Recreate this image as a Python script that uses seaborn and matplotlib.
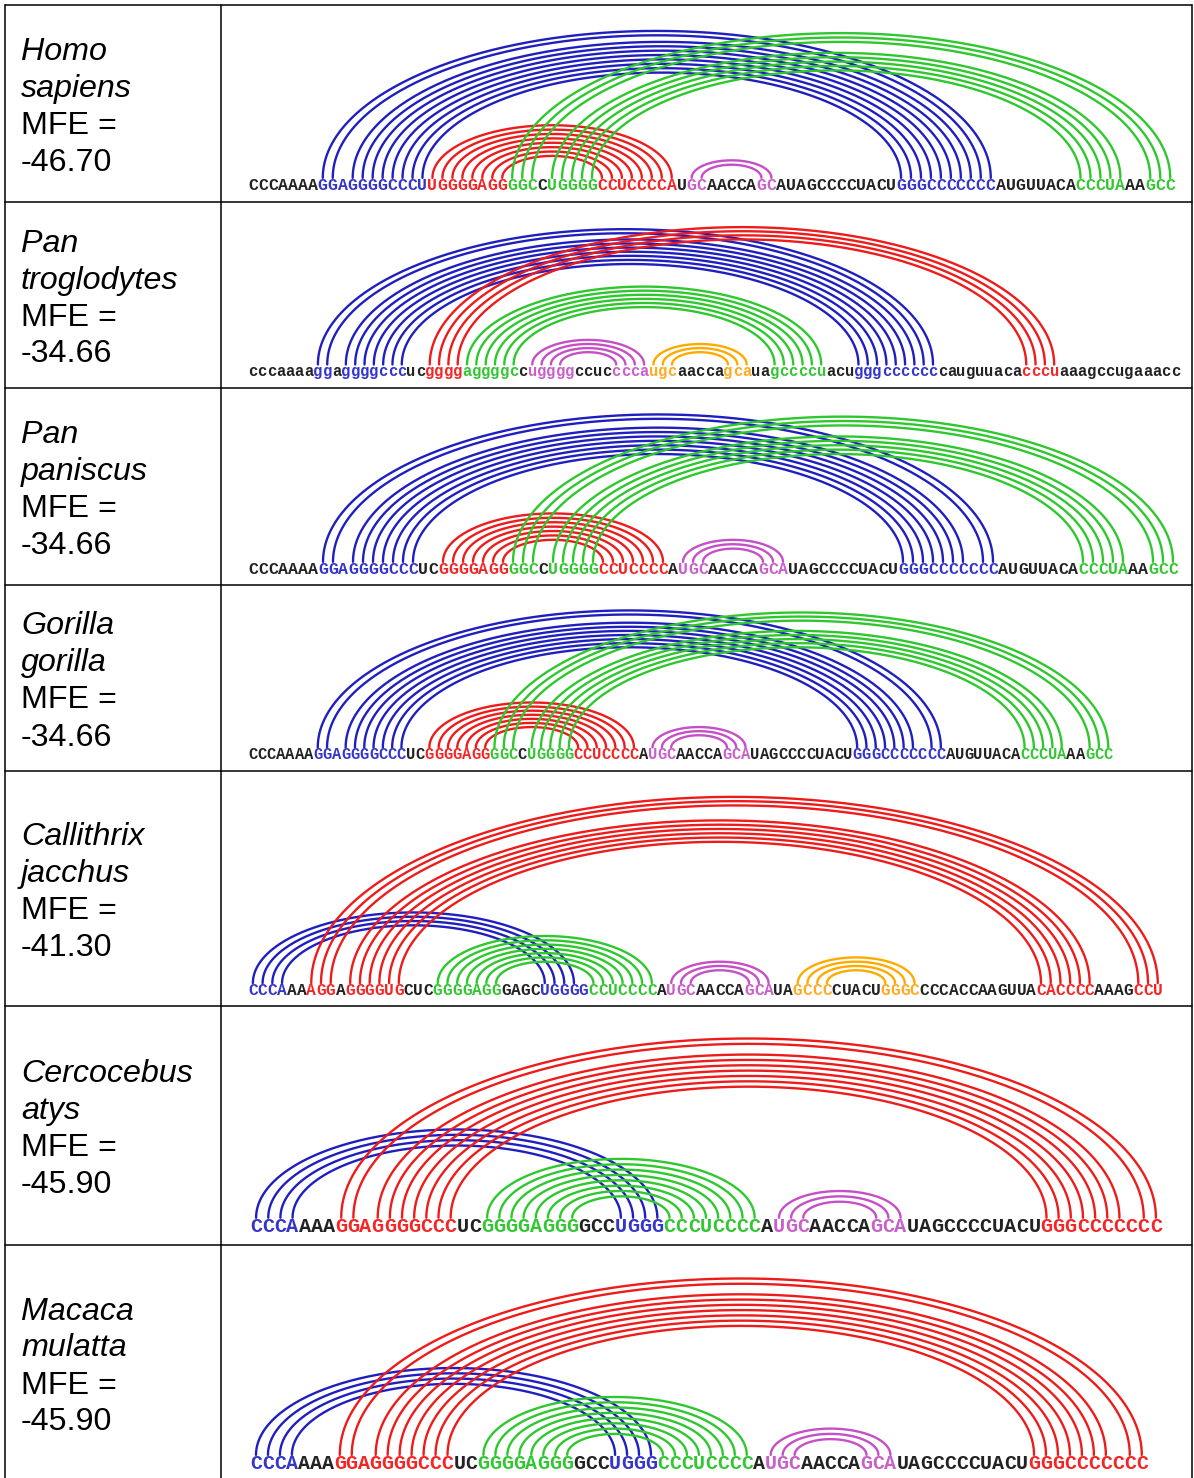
import numpy as np
import pandas as pd
import matplotlib
matplotlib.use("Agg")
import matplotlib.pyplot as plt
import seaborn as sns

# ---------------- data ----------------
species_names = [("Homo", "sapiens"), ("Pan", "troglodytes"), ("Pan", "paniscus"),
                 ("Gorilla", "gorilla"), ("Callithrix", "jacchus"),
                 ("Cercocebus", "atys"), ("Macaca", "mulatta")]
mfe_values = ["-46.70", "-34.66", "-34.66", "-34.66", "-41.30", "-45.90", "-45.90"]

# sequences as coloured segments (k=unpaired, b/r/g/m/o = helix colour)
homo_segments = [("CCCAAAA", "k"), ("GGAGGGGCCCU", "b"), ("UGGGGAGG", "r"), ("GGC", "g"),
                 ("C", "k"), ("UGGGG", "g"), ("CCUCCCCA", "r"), ("U", "k"), ("GC", "m"),
                 ("AACCA", "k"), ("GC", "m"), ("AUAGCCCCUACU", "k"), ("GGGCCCCCCC", "b"),
                 ("AUGUUACA", "k"), ("CCCUA", "g"), ("AA", "k"), ("GCC", "g")]
homo_helices = [("b", [7, 8, 10, 11, 12, 13, 14, 15, 16, 17], [74, 73, 72, 71, 70, 69, 68, 67, 66, 65]),
                ("r", [18, 19, 20, 21, 22, 23, 24, 25], [42, 41, 40, 39, 38, 37, 36, 35]),
                ("g", [26, 27, 28, 30, 31, 32, 33, 34], [92, 91, 90, 87, 86, 85, 84, 83]),
                ("m", [44, 45], [52, 51])]

trog_segments = [("cccaaaa", "k"), ("gg", "b"), ("a", "k"), ("ggggccc", "b"), ("uc", "k"),
                 ("gggg", "r"), ("aggggc", "g"), ("c", "k"), ("ugggg", "m"), ("ccuc", "k"),
                 ("ccca", "m"), ("ugc", "o"), ("aacca", "k"), ("gca", "o"), ("ua", "k"),
                 ("gccccu", "g"), ("acu", "k"), ("gggcccccc", "b"), ("cauguuaca", "k"),
                 ("cccu", "r"), ("aaagccugaaacc", "k")]
trog_helices = [("b", [7, 8, 10, 11, 12, 13, 14, 15, 16], [73, 72, 71, 70, 69, 68, 67, 66, 65]),
                ("r", [19, 20, 21, 22], [86, 85, 84, 83]),
                ("g", [23, 24, 25, 26, 27, 28], [61, 60, 59, 58, 57, 56]),
                ("m", [30, 31, 32, 33], [42, 41, 40, 39]),
                ("o", [43, 44, 45], [53, 52, 51])]

panis_segments = [("CCCAAAA", "k"), ("GGAGGGGCCC", "b"), ("UC", "k"), ("GGGGAGG", "r"),
                  ("GGC", "g"), ("C", "k"), ("UGGGG", "g"), ("CCUCCCC", "r"), ("A", "k"),
                  ("UGC", "m"), ("AACCA", "k"), ("GCA", "m"), ("UAGCCCCUACU", "k"),
                  ("GGGCCCCCCC", "b"), ("AUGUUACA", "k"), ("CCCUA", "g"), ("AA", "k"), ("GCC", "g")]
panis_helices = [("b", [7, 8, 10, 11, 12, 13, 14, 15, 16], [74, 73, 71, 70, 69, 68, 67, 66, 65]),
                 ("r", [19, 20, 21, 22, 23, 24, 25], [41, 40, 39, 38, 37, 36, 35]),
                 ("g", [26, 27, 28, 30, 31, 32, 33, 34], [92, 91, 90, 87, 86, 85, 84, 83]),
                 ("m", [43, 44, 45], [53, 52, 51])]

gor_segments = list(panis_segments)
gor_helices = list(panis_helices)

calli_segments = [("CCCA", "b"), ("AA", "k"), ("AGG", "r"), ("A", "k"), ("GGGGUG", "r"),
                  ("CUC", "k"), ("GGGGAGG", "g"), ("GAGC", "k"), ("UGGGG", "b"),
                  ("CCUCCCC", "g"), ("A", "k"), ("UGC", "m"), ("AACCA", "k"), ("GCA", "m"),
                  ("UA", "k"), ("GCCC", "o"), ("CUACU", "k"), ("GGGC", "o"),
                  ("CCCACCAAGUUA", "k"), ("CACCCC", "r"), ("AAAG", "k"), ("CCU", "r")]
calli_helices = [("b", [0, 1, 2, 3], [33, 32, 31, 30]),
                 ("r", [6, 7, 8, 10, 11, 12, 13, 14, 15], [93, 92, 91, 86, 85, 84, 83, 82, 81]),
                 ("g", [19, 20, 21, 22, 23, 24, 25], [41, 40, 39, 38, 37, 36, 35]),
                 ("m", [43, 44, 45], [53, 52, 51]),
                 ("o", [56, 57, 58, 59], [68, 67, 66, 65])]

cerco_segments = [("CCCA", "b"), ("AAA", "k"), ("GGAGGGGCCC", "r"), ("UC", "k"),
                  ("GGGGAGGG", "g"), ("GCC", "k"), ("UGGG", "b"), ("CCCUCCCC", "g"),
                  ("A", "k"), ("UGC", "m"), ("AACCA", "k"), ("GCA", "m"),
                  ("UAGCCCCUACU", "k"), ("GGGCCCCCCC", "r")]
cerco_helices = [("b", [0, 1, 2, 3], [33, 32, 31, 30]),
                 ("r", [7, 8, 10, 11, 12, 13, 14, 15, 16], [74, 73, 71, 70, 69, 68, 67, 66, 65]),
                 ("g", [19, 20, 21, 22, 23, 24, 25, 26], [41, 40, 39, 38, 37, 36, 35, 34]),
                 ("m", [43, 44, 45], [53, 52, 51])]

maca_segments = list(cerco_segments)
maca_helices = list(cerco_helices)

row_segments = [homo_segments, trog_segments, panis_segments, gor_segments,
                calli_segments, cerco_segments, maca_segments]
row_helices = [homo_helices, trog_helices, panis_helices, gor_helices,
               calli_helices, cerco_helices, maca_helices]

# ---------------- styling / layout ----------------
W, H, DPI = 1194, 1478, 100
arc_colors = {"b": "#1f1fbf", "r": "#ee1b1b", "g": "#2ec82e", "m": "#c550c5", "o": "#ffaa00"}
letter_colors = {"k": "#222222", "b": "#3535cc", "r": "#f52525", "g": "#33c633",
                 "m": "#c860c8", "o": "#ffaa22"}

row_top = [5, 202, 388, 585, 771, 1006, 1245]
row_bot = [202, 388, 585, 771, 1006, 1245, 1481]
col_x = 221
right_x = 1192
seq_x0 = [248, 248, 248, 248, 248, 250, 250]
pitch = [9.97, 9.32, 10.0, 9.30, 9.73, 12.16, 11.97]
text_base = [190, 376, 574, 759, 995, 1232, 1469]
ARC_RATIO = 0.44

sns.set_theme(style="white")
plt.rcParams["font.family"] = ["Liberation Sans", "DejaVu Sans"]

fig = plt.figure(figsize=(W / DPI, H / DPI), dpi=DPI)
fig.patch.set_facecolor("white")

bg = fig.add_axes([0, 0, 1, 1])
bg.set_xlim(0, W)
bg.set_ylim(H, 0)
bg.axis("off")

# table grid
lw_tab = 1.1
bg.plot([5, 5], [5, H + 5], color="black", lw=lw_tab)
bg.plot([right_x, right_x], [5, H + 5], color="black", lw=lw_tab)
bg.plot([col_x, col_x], [5, H + 5], color="black", lw=lw_tab)
for y in [5] + row_bot[:-1]:
    bg.plot([5, right_x], [y, y], color="black", lw=lw_tab)

# left column labels
for r in range(7):
    center = (row_top[r] + row_bot[r]) / 2 + 1
    lines = [(species_names[r][0], "italic"), (species_names[r][1], "italic"),
             ("MFE =", "normal"), (mfe_values[r], "normal")]
    for k, (txt, st) in enumerate(lines):
        yb = center + (k - 1.5) * 37 + 11
        bg.text(21, yb, txt, fontsize=23.2, style=st, va="baseline", ha="left",
                color="black")

theta = np.linspace(0, np.pi, 241)

for r in range(7):
    top, bot = row_top[r], row_bot[r]
    p = pitch[r]
    x0 = seq_x0[r]
    fs_px = p / 0.6
    fs_pt = fs_px * 72 / DPI
    cap = 0.58 * fs_px
    arc_base = text_base[r] - cap - 2.5

    ax = fig.add_axes([col_x / W, 1 - bot / H, (right_x - col_x) / W, (bot - top) / H])
    ax.set_xlim((col_x - x0) / p - 0.5, (right_x - x0) / p - 0.5)
    ax.set_ylim(-(bot - arc_base), arc_base - top)
    ax.axis("off")
    ax.patch.set_alpha(0)

    # arcs
    recs = []
    for hid, (ck, fp, tp) in enumerate(row_helices[r]):
        for k, (i, j) in enumerate(zip(fp, tp)):
            c = (i + j) / 2.0
            a = (j - i) / 2.0
            h = ARC_RATIO * a * p
            xs = c - a * np.cos(theta)
            ys = h * np.sin(theta)
            recs.append(pd.DataFrame({"x": xs, "y": ys, "arc": f"{hid}_{k}", "col": ck}))
    df = pd.concat(recs, ignore_index=True)
    hue_order = [hk for hk in ["b", "r", "g", "m", "o"] if hk in set(df["col"])]
    sns.lineplot(data=df, x="x", y="y", hue="col", units="arc", estimator=None,
                 sort=False, palette=arc_colors, hue_order=hue_order, legend=False,
                 linewidth=1.7, ax=ax)
    ax.set_xlabel("")
    ax.set_ylabel("")

    # sequence letters
    idx = 0
    for seg, ck in row_segments[r]:
        for ch in seg:
            ax.text(idx, -(text_base[r] - arc_base), ch, fontsize=fs_pt,
                    family=["Liberation Mono", "DejaVu Sans Mono"], weight="bold",
                    color=letter_colors[ck], ha="center", va="baseline")
            idx += 1

fig.savefig("out.png", dpi=DPI, facecolor="white")
